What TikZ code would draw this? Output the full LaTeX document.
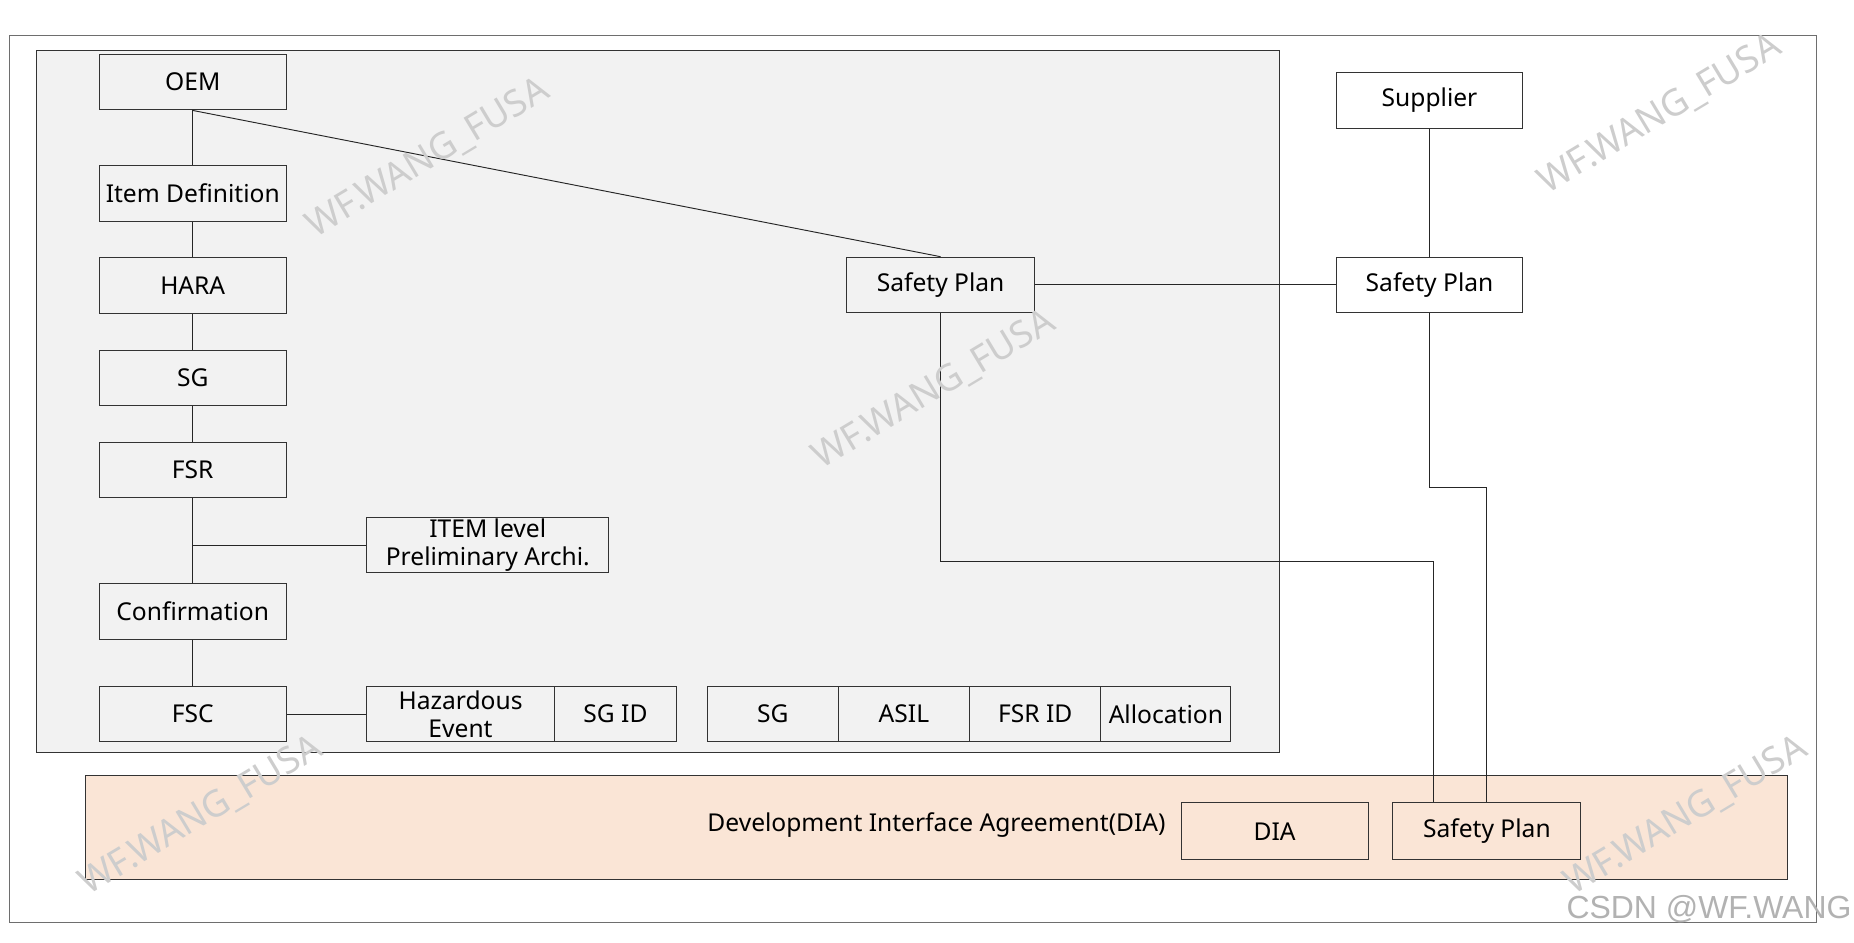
\documentclass[tikz,border=0pt]{standalone}
\usepackage{fontspec}
\setmainfont{Noto Sans}
\newfontfamily\csdnfont{Liberation Sans}
\definecolor{panelgray}{RGB}{242,242,242}
\definecolor{peach}{RGB}{250,229,214}
\definecolor{framegray}{RGB}{110,110,110}
\definecolor{wmgray}{RGB}{205,205,205}
\begin{document}
\begin{tikzpicture}[x=1pt,y=-1pt,
  box/.style={draw=black!80, line width=0.8pt, minimum width=158pt, minimum height=47pt,
    inner sep=0pt, align=center, font=\fontsize{20.8}{24}\selectfont},
  conn/.style={draw=black!85, line width=0.8pt},
  wm/.style={text=wmgray, rotate=31, font=\fontsize{31}{34}\selectfont, inner sep=0pt}]
\useasboundingbox (0,0) rectangle (1568,797);
% frames
\draw[framegray, line width=0.9pt, fill=white] (8,30) rectangle (1536,780);
\draw[black!80, line width=0.8pt, fill=panelgray] (31,43) rectangle (1082,636);
\draw[black!80, line width=0.8pt, fill=peach] (72,656) rectangle (1512,744);
% left column
\node[box] (oem) at (163,69.5) {OEM};
\node[box] (item) at (163,163.5) {Item Definition};
\node[box] (hara) at (163,241.5) {HARA};
\node[box] (sg) at (163,319.5) {SG};
\node[box] (fsr) at (163,397.5) {FSR};
\node[box] (conf) at (163,517) {Confirmation};
\node[box] (fsc) at (163,604) {FSC};
\node[box, minimum width=205pt] (arch) at (412.5,461) {ITEM level\\Preliminary Archi.};
\node[box, minimum width=159pt] (haz) at (389.5,604) {Hazardous\\Event};
\node[box, minimum width=103pt] (sgid) at (520.5,604) {SG ID};
% table
\node[box, minimum width=111pt] (tsg) at (653.5,604) {SG};
\node[box, minimum width=111pt] (tasil) at (764.5,604) {ASIL};
\node[box, minimum width=111pt] (tfsr) at (875.5,604) {FSR ID};
\node[box, minimum width=110pt] (talloc) at (986,604) {Allocation};
% safety plans
\node[box, minimum width=159pt] (sp1) at (795.5,241) {Safety Plan};
\node[box, fill=white] (sup) at (1209,85) {Supplier};
\node[box, fill=white] (sp2) at (1209,241) {Safety Plan};
% DIA
\node[font=\fontsize{20.8}{24}\selectfont, inner sep=0pt] (diatext) at (792,698) {Development Interface Agreement(DIA)};
\node[box, minimum height=48pt] (dia) at (1078,703) {DIA};
\node[box, minimum width=159pt, minimum height=48pt] (sp3) at (1257.5,703) {Safety Plan};
% connectors
\coordinate (j) at (163,461);
\draw[conn] (oem) -- (item);
\draw[conn] (item) -- (hara);
\draw[conn] (hara) -- (sg);
\draw[conn] (sg) -- (fsr);
\draw[conn] (fsr) -- (conf);
\draw[conn] (j) -- (arch.west);
\draw[conn] (conf) -- (fsc);
\draw[conn] (fsc) -- (haz);
\draw[conn] (oem.south) -- (sp1.north);
\draw[conn] (sp1) -- (sp2);
\draw[conn] (sup) -- (sp2);
\draw[conn] (sp1.south) -- ++(0,210) -| ([xshift=-45.5pt]sp3.north);
\draw[conn] (sp2.south) -- ++(0,147) -| (sp3.north);
% watermarks
\node[wm] (wm1) at (362,134) {WF.WANG\_FUSA};
\node[wm] (wm2) at (790,330) {WF.WANG\_FUSA};
\node[wm] (wm3) at (1404,97) {WF.WANG\_FUSA};
\node[wm] (wm4) at (170,690) {WF.WANG\_FUSA};
\node[wm] (wm5) at (1426,690) {WF.WANG\_FUSA};
\node[text=black!30, font=\csdnfont\fontsize{27}{29}\selectfont, inner sep=0pt, anchor=east] (csdn) at (1566,769) {CSDN @WF.WANG};
\end{tikzpicture}
\end{document}
